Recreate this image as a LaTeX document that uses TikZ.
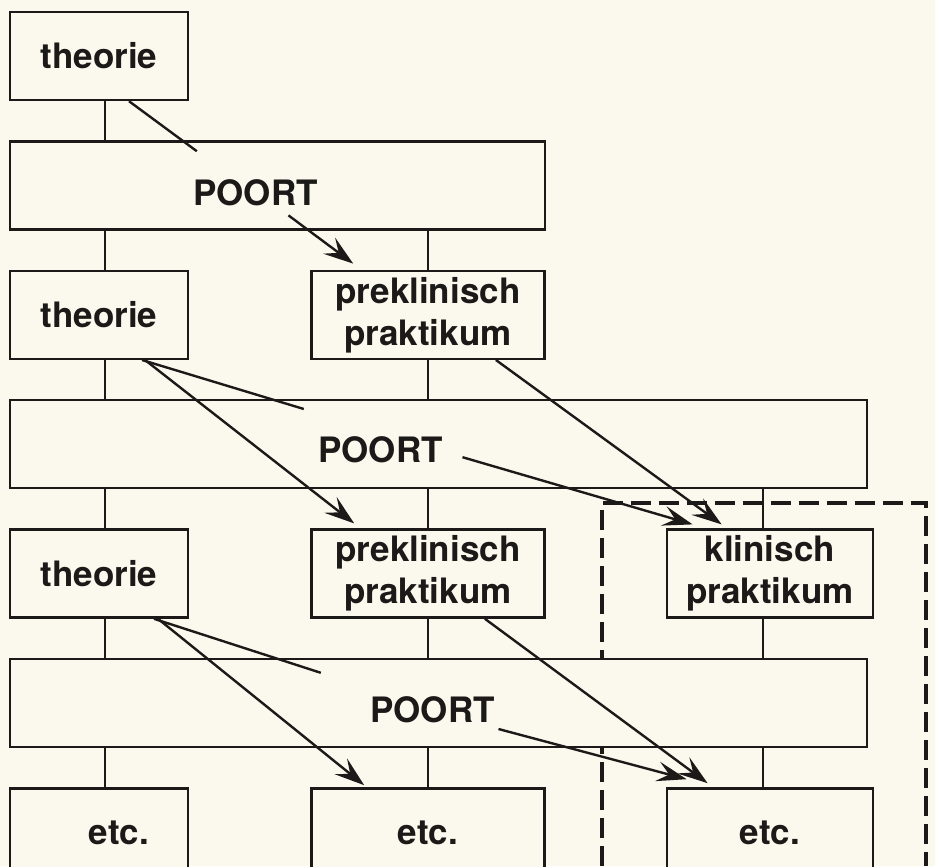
\documentclass[tikz,border=0pt]{standalone}
\usepackage{fontspec}
\setsansfont{TeX Gyre Heros}
\usetikzlibrary{arrows.meta, positioning}
\definecolor{paper}{RGB}{251,249,237}
\definecolor{ink}{RGB}{28,26,24}

\begin{document}
\begin{tikzpicture}[
        node distance=19.5pt and 60.5pt,
        color=ink, line width=1.2pt,
        every node/.style={font=\sffamily\bfseries\fontsize{17.5}{21}\selectfont},
        box/.style={draw=ink, fill=paper, minimum height=44pt, inner sep=0pt, align=center},
        gate/.style={box, minimum width=428.5pt},
        flow/.style={-{Stealth[length=15pt, width=10pt, inset=6pt]}}
        ]

        % Paper
        \fill[paper] (0,0) rectangle (467.5pt,-433pt);
        \useasboundingbox (0,0) rectangle (467.5pt,-433pt);

        % Frame round the clinical column
        \draw[line width=1.7pt, dash pattern=on 10pt off 4pt]
            (301pt,-433pt) -- (301pt,-251.5pt) -- (463pt,-251.5pt) -- (463pt,-433pt);

        % Nodes
        \node[box, minimum width=89pt] (theorie1) at (49.5pt,-28pt) {theorie};
        \node[gate, minimum width=267.5pt, below=of theorie1.south west, anchor=north west] (poort1) {};
        \node[box, minimum width=89pt, below=of poort1.south west, anchor=north west] (theorie2) {theorie};
        \node[box, minimum width=116.5pt, right=of theorie2] (prek1) {preklinisch\\praktikum};
        \node[gate, below=of theorie2.south west, anchor=north west] (poort2) {};
        \node[box, minimum width=89pt, below=of poort2.south west, anchor=north west] (theorie3) {theorie};
        \node[box, minimum width=116.5pt, right=of theorie3] (prek2) {preklinisch\\praktikum};
        \node[box, minimum width=103pt, right=60pt of prek2] (klinisch) {klinisch\\praktikum};
        \node[gate, below=of theorie3.south west, anchor=north west] (poort3) {};
        \node[box, minimum width=89pt, below=of poort3.south west, anchor=north west] (etc1) {\hspace*{20pt}etc.};
        \node[box, minimum width=116.5pt, right=of etc1] (etc2) {etc.};
        \node[box, minimum width=103pt, right=60pt of etc2] (etc3) {etc.};

        % Gate labels
        \node (p1label) at ([shift={(-11pt,-3.5pt)}]poort1.center) {POORT};
        \node (p2label) at ([shift={(-29pt,-3pt)}]poort2.center) {POORT};
        \node (p3label) at ([shift={(-3pt,-3.5pt)}]poort3.center) {POORT};

        % Vertical links
        \foreach \n/\g/\s in {theorie1/poort1/3pt, theorie2/poort2/3pt, prek1/poort2/0pt,
                              theorie3/poort3/3pt, prek2/poort3/0pt, klinisch/poort3/-3.5pt}
            \draw ([xshift=\s]\n.south) -- ([xshift=\s]\n.south |- \g.north);
        \foreach \g/\n/\s in {poort1/theorie2/3pt, poort1/prek1/0pt, poort2/theorie3/3pt,
                              poort2/prek2/0pt, poort2/klinisch/-3.5pt, poort3/etc1/3pt,
                              poort3/etc2/0pt, poort3/etc3/-3.5pt}
            \draw ([xshift=\s]\n.north) -- ([xshift=\s]\n.north |- \g.south);

        % Stubs into the gates
        \draw ([xshift=15pt]theorie1.south) -- ([shift={(94pt,-5.5pt)}]poort1.north west);
        \draw ([xshift=21.5pt]theorie2.south) -- ([shift={(147.5pt,-5pt)}]poort2.north west);
        \draw ([xshift=27.5pt]theorie3.south) -- ([shift={(156pt,-7.5pt)}]poort3.north west);

        % Arrows
        \draw[flow] ([shift={(16.5pt,-11.5pt)}]p1label.center) -- ([shift={(21.5pt,3pt)}]prek1.north west);
        \draw[flow] ([xshift=23pt]theorie2.south) -- ([shift={(22pt,2.5pt)}]prek2.north west);
        \draw[flow] ([xshift=34pt]prek1.south) -- ([shift={(28pt,2pt)}]klinisch.north west);
        \draw[flow] ([shift={(41pt,-3.5pt)}]p2label.center) -- ([shift={(13.5pt,2pt)}]klinisch.north west);
        \draw[flow] ([xshift=29.5pt]theorie3.south) -- ([shift={(27pt,1pt)}]etc2.north west);
        \draw[flow] ([xshift=28.5pt]prek2.south) -- ([shift={(21pt,2pt)}]etc3.north west);
        \draw[flow] ([shift={(33pt,-9.5pt)}]p3label.center) -- ([shift={(10.5pt,4pt)}]etc3.north west);

\end{tikzpicture}
\end{document}
